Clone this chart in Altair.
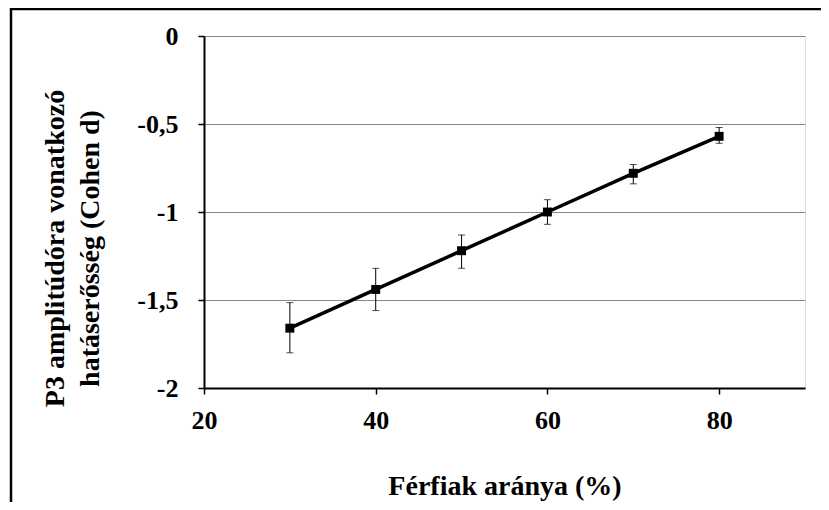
import altair as alt
import pandas as pd

# Data
ratio = [30, 40, 50, 60, 70, 80]
effect = [-1.66, -1.44, -1.22, -1.00, -0.78, -0.57]
err_low = [-1.80, -1.56, -1.32, -1.07, -0.84, -0.61]
err_high = [-1.515, -1.32, -1.13, -0.93, -0.73, -0.52]
x_ticks = [20, 40, 60, 80]
y_ticks = [-2, -1.5, -1, -0.5, 0]

df = pd.DataFrame({"x": ratio, "y": effect, "lo": err_low, "hi": err_high})

FONT = "Liberation Serif"
W, H = 601, 352

xs = alt.X("x:Q", scale=alt.Scale(domain=[20, 90], nice=False, zero=False),
           axis=alt.Axis(values=x_ticks, grid=False, labelFlush=False,
                         title="Férfiak aránya (%)",
                         titleY=106, titleBaseline="alphabetic",
                         titleFontSize=28, titleFont=FONT, titleFontWeight="bold",
                         labelFontSize=26, labelFont=FONT, labelFontWeight="bold",
                         labelPadding=13, tickSize=6, tickColor="black", tickWidth=1.5,
                         domainColor="black", domainWidth=2, labelColor="black",
                         titleColor="black"))
ys = alt.Y("y:Q", scale=alt.Scale(domain=[-2, 0], nice=False, zero=False),
           axis=alt.Axis(values=y_ticks, grid=True, gridColor="#888888", gridWidth=1,
                         labelFlush=False,
                         labelExpr="replace(toString(datum.value), '.', ',')",
                         title=["P3 amplitúdóra vonatkozó", "hatáserősség (Cohen d)"],
                         titleX=-149, titleY=212, titleBaseline="middle",
                         titleAngle=270, titleLineHeight=35,
                         titleFontSize=28, titleFont=FONT, titleFontWeight="bold",
                         labelFontSize=26, labelFont=FONT, labelFontWeight="bold",
                         labelPadding=20, tickSize=6, tickColor="black", tickWidth=1.5,
                         domainColor="black", domainWidth=2, labelColor="black",
                         titleColor="black"))

base = alt.Chart(df)

border = alt.Chart(alt.Data(values=[{"a": 1}])).mark_rect(
    fillOpacity=0, stroke="black", strokeWidth=2.5
).encode(x=alt.value(-193), x2=alt.value(800), y=alt.value(-27), y2=alt.value(700))

rules = base.mark_rule(color="black", strokeWidth=1).encode(
    x=xs, y=alt.Y("lo:Q"), y2="hi:Q")
cap_lo = base.mark_tick(color="black", orient="horizontal", size=7, thickness=1).encode(
    x="x:Q", y="lo:Q")
cap_hi = base.mark_tick(color="black", orient="horizontal", size=7, thickness=1).encode(
    x="x:Q", y="hi:Q")
line = base.mark_line(color="black", strokeWidth=3.5).encode(x=xs, y=ys)
pts = base.mark_point(shape="square", filled=True, size=80, color="black", opacity=1).encode(
    x="x:Q", y="y:Q")

chart = alt.layer(line, rules, cap_lo, cap_hi, pts, border).properties(
    width=W, height=H,
    padding={"left": 196, "top": 28, "right": 16, "bottom": 114},
    autosize=alt.AutoSizeParams(type="none"),
).configure_view(stroke="#222222", strokeWidth=1.5).configure(background="white")

chart.save("out.html", embed_options={"renderer": "svg", "actions": False})
